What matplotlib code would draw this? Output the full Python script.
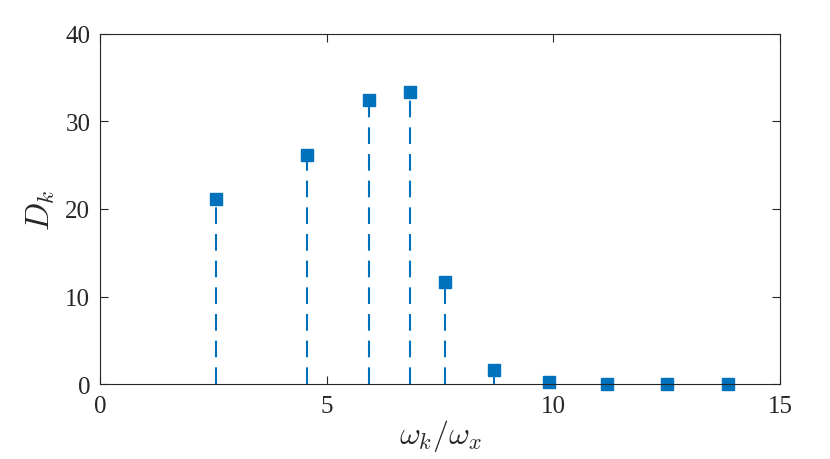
import matplotlib
matplotlib.use("Agg")
import matplotlib.pyplot as plt

# frequency ratios and D_k values
omega_ratio = [2.56, 4.56, 5.94, 6.84, 7.62, 8.70, 9.91, 11.19, 12.51, 13.86]
d_k = [21.1, 26.2, 32.5, 33.4, 11.7, 1.6, 0.25, 0.05, 0.03, 0.02]

x_ticks = [0, 5, 10, 15]
y_ticks = [0, 10, 20, 30, 40]

plt.rcParams["font.family"] = "Liberation Serif"
plt.rcParams["mathtext.fontset"] = "cm"

blue = "#0072BD"
axis_col = "#262626"

fig = plt.figure(figsize=(8.3, 4.6), dpi=100)
ax = fig.add_axes([0.1205, 0.163, 0.8193, 0.761])

# stems: dashed lines from zero up to each value, square markers on top
markerline, stemlines, baseline = ax.stem(omega_ratio, d_k, basefmt=" ")
stemlines.set_color(blue)
stemlines.set_linewidth(1.5)
stemlines.set_linestyle((0, (8, 4.8)))
markerline.set_marker("s")
markerline.set_markersize(8.5)
markerline.set_color(blue)
markerline.set_markeredgecolor(blue)
markerline.set_clip_on(False)

ax.set_xlim(0, 15)
ax.set_ylim(0, 40)
ax.set_xticks(x_ticks)
ax.set_yticks(y_ticks)

ax.tick_params(direction="in", top=True, right=True, length=6, width=0.8,
               colors=axis_col, labelsize=18, labelcolor=axis_col)
ax.tick_params(axis="x", pad=8)
ax.tick_params(axis="y", pad=7)
for sp in ax.spines.values():
    sp.set_color(axis_col)
    sp.set_linewidth(0.8)

ax.set_xlabel(r"$\omega_k/\omega_x$", fontsize=23, color=axis_col, labelpad=0)
ax.set_ylabel(r"$D_k$", fontsize=24, color=axis_col, labelpad=6)

fig.savefig("out.png", dpi=100)
